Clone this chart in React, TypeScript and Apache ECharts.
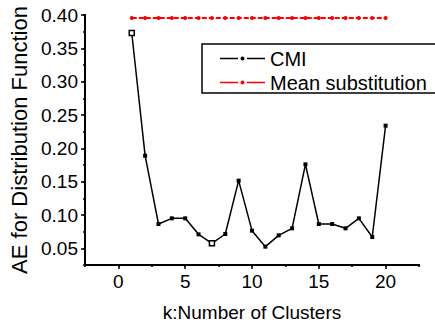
import React, { useEffect, useRef } from "react";
import * as echarts from "echarts";

const clusters = [1, 2, 3, 4, 5, 6, 7, 8, 9, 10, 11, 12, 13, 14, 15, 16, 17, 18, 19, 20];
const cmiValues = [0.373, 0.189, 0.0865, 0.095, 0.095, 0.071, 0.0575, 0.0715, 0.1515, 0.0765, 0.0525, 0.0695, 0.08, 0.176, 0.0865, 0.0865, 0.08, 0.095, 0.067, 0.234];
const meanValues = [0.3955, 0.3955, 0.3955, 0.3955, 0.3955, 0.3955, 0.3955, 0.3955, 0.3955, 0.3955, 0.3955, 0.3955, 0.3955, 0.3955, 0.3955, 0.3955, 0.3955, 0.3955, 0.3955, 0.3955];
const xTickLabels = [0, 5, 10, 15, 20];
const yTickLabels = [0.05, 0.1, 0.15, 0.2, 0.25, 0.3, 0.35, 0.4];
const xRange = [-2.5, 22.5];
const yRange = [0.025, 0.4];
const hollowPoints = [1, 7];

const FONT = "Liberation Sans, Arial, sans-serif";
const LEGEND_ICON = "path://M0,4.25h18v1.5h-18z M27,4.25h18v1.5h-18z M20.5,5a2,2 0 1,0 4,0a2,2 0 1,0 -4,0z";
const axisLine = () => ({ show: true, onZero: false, lineStyle: { color: "#000", width: 2 } });
const tick = (length: number, customValues?: number[]) => ({
  show: true,
  inside: false,
  length,
  ...(customValues ? { customValues } : {}),
  lineStyle: { color: "#000", width: 1.5 },
});

export default function App() {
  const ref = useRef<HTMLDivElement>(null);
  useEffect(() => {
    if (!ref.current) return;
    const chart = echarts.init(ref.current, null, { renderer: "svg" });
    chart.setOption({
      animation: false,
      backgroundColor: "#fff",
      grid: { left: 85, right: 16, top: 15, bottom: 58, outerBoundsMode: "none", containLabel: false },
      legend: {
        left: 202,
        top: 44,
        orient: "vertical",
        padding: [4, 12, 0, 18],
        itemGap: 3,
        itemWidth: 45,
        itemHeight: 4,
        icon: LEGEND_ICON,
        borderColor: "#000",
        borderWidth: 1.5,
        backgroundColor: "#fff",
        textStyle: { fontFamily: FONT, fontSize: 20, color: "#000", lineHeight: 21 },
        data: ["CMI", "Mean substitution"],
      },
      xAxis: [
        {
          type: "value",
          position: "bottom",
          min: xRange[0],
          max: xRange[1],
          interval: 2.5,
          name: "k:Number of Clusters",
          nameLocation: "middle",
          nameGap: 38,
          nameTextStyle: { fontFamily: FONT, fontSize: 19, color: "#000" },
          axisLine: axisLine(),
          splitLine: { show: false },
          axisTick: tick(2),
          axisLabel: { customValues: xTickLabels, margin: 7, fontFamily: FONT, fontSize: 19, color: "#000" },
        },
        {
          type: "value",
          position: "bottom",
          min: xRange[0],
          max: xRange[1],
          interval: 2.5,
          axisLine: axisLine(),
          splitLine: { show: false },
          axisLabel: { show: false },
          axisTick: tick(4, xTickLabels),
        },
      ],
      yAxis: [
        {
          type: "value",
          position: "left",
          min: yRange[0],
          max: yRange[1],
          interval: 0.025,
          name: "AE for Distribution Function",
          nameLocation: "middle",
          nameGap: 52,
          nameTextStyle: { fontFamily: FONT, fontSize: 22, color: "#000" },
          axisLine: axisLine(),
          splitLine: { show: false },
          axisTick: tick(2),
          axisLabel: {
            customValues: yTickLabels,
            margin: 7,
            fontFamily: FONT,
            fontSize: 19,
            color: "#000",
            formatter: (v: number) => v.toFixed(2),
          },
        },
        {
          type: "value",
          position: "left",
          min: yRange[0],
          max: yRange[1],
          interval: 0.025,
          axisLine: axisLine(),
          splitLine: { show: false },
          axisLabel: { show: false },
          axisTick: tick(4, yTickLabels),
        },
      ],
      series: [
        {
          name: "CMI",
          type: "line",
          data: clusters.map((k, i) =>
            hollowPoints.includes(k)
              ? { value: [k, cmiValues[i]], symbolSize: 5, itemStyle: { color: "#fff", borderColor: "#000", borderWidth: 1.5 } }
              : { value: [k, cmiValues[i]] }
          ),
          symbol: "rect",
          symbolSize: 4,
          lineStyle: { color: "#000", width: 1.5 },
          itemStyle: { color: "#000", borderWidth: 0 },
          z: 3,
        },
        {
          name: "Mean substitution",
          type: "line",
          data: clusters.map((k, i) => [k, meanValues[i]]),
          symbol: "circle",
          symbolSize: 4,
          lineStyle: { color: "#ff0000", width: 2, type: [5, 2] },
          itemStyle: { color: "#ff0000", borderWidth: 0 },
          z: 2,
        },
      ],
    });
    const finder = { xAxisIndex: 0, yAxisIndex: 0 };
    const origin = chart.convertToPixel(finder, [xRange[0], yRange[0]]) as number[];
    const xEnd = chart.convertToPixel(finder, [xRange[1], yRange[0]]) as number[];
    const yEnd = chart.convertToPixel(finder, [xRange[0], yRange[1]]) as number[];
    if (origin && xEnd && yEnd) {
      chart.setOption({
        graphic: [
          {
            type: "rect",
            silent: true,
            z: 10,
            shape: { x: origin[0] - 1, y: origin[1] - 1, width: xEnd[0] - origin[0] + 1, height: 2 },
            style: { fill: "#000" },
          },
          {
            type: "rect",
            silent: true,
            z: 10,
            shape: { x: origin[0] - 1, y: yEnd[1], width: 2, height: origin[1] - yEnd[1] + 1 },
            style: { fill: "#000" },
          },
        ],
      });
    }
    return () => chart.dispose();
  }, []);
  return <div ref={ref} style={{ position: "absolute", left: 0, top: 0, width: 435, height: 323 }} />;
}
